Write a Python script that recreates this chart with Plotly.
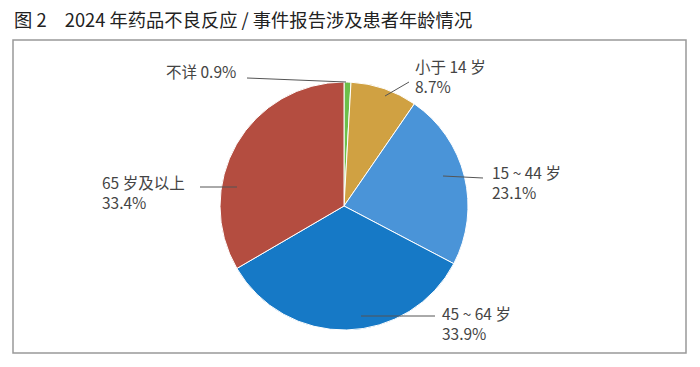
import plotly.graph_objects as go

# ---- data ----
categories = ["不详", "小于 14 岁", "15 ~ 44 岁", "45 ~ 64 岁", "65 岁及以上"]
percent = [0.9, 8.7, 23.1, 33.9, 33.4]
colors = ["#6cbf4a", "#d0a142", "#4a94d8", "#1679c6", "#b44d40"]

W, H = 700, 367
def px(x): return x / W
def py(y): return 1 - y / H

# pie geometry (pixels)
cx, cy, R = 344, 206, 124

fig = go.Figure(go.Pie(
    labels=categories,
    values=percent,
    sort=False,
    direction="clockwise",
    rotation=0,
    marker=dict(colors=colors, line=dict(color="white", width=1)),
    textinfo="none",
    hoverinfo="label+percent",
    showlegend=False,
    domain=dict(x=[px(cx - R), px(cx + R)], y=[py(cy + R), py(cy - R)]),
))

# label layout (pixels): text position, anchor, leader line
label_layout = [
    (238, 71, "right", (247, 78), (346, 82), True),
    (413, 76, "left", (385, 96), (409, 82), False),
    (490, 182, "left", (443, 176), (483, 178), False),
    (440, 323, "left", (361, 316), (435, 316), False),
    (100, 192, "left", (200, 187), (237, 187), False),
]

font_main = "Noto Sans CJK SC, Noto Sans, sans-serif"
annotations = []
shapes = []
for (cat, val), (x, y, xa, p0, p1, single) in zip(zip(categories, percent), label_layout):
    text = f"{cat} {val}%" if single else f"{cat}<br>{val}%"
    annotations.append(dict(
        x=px(x), y=py(y), xref="paper", yref="paper",
        text=text, showarrow=False, xanchor=xa, yanchor="middle", align="left",
        font=dict(family=font_main, size=15.5, color="#444444"),
    ))
    shapes.append(dict(type="line", xref="paper", yref="paper",
                       x0=px(p0[0]), y0=py(p0[1]), x1=px(p1[0]), y1=py(p1[1]),
                       line=dict(color="#555555", width=1)))

# frame box
shapes.append(dict(type="rect", xref="paper", yref="paper",
                   x0=px(13), y0=py(353), x1=px(686), y1=py(40),
                   line=dict(color="#999999", width=1.5)))

annotations.append(dict(
    x=px(12), y=py(19), xref="paper", yref="paper",
    text="图 2　2024 年药品不良反应 / 事件报告涉及患者年龄情况",
    showarrow=False, xanchor="left", yanchor="middle",
    font=dict(family=font_main, size=18.3, color="#222222"),
))

fig.update_layout(
    width=W, height=H,
    margin=dict(l=0, r=0, t=0, b=0),
    paper_bgcolor="white", plot_bgcolor="white",
    annotations=annotations, shapes=shapes,
)

fig.write_html("out.html",
               config={"displayModeBar": False},
               post_script="document.body.style.margin='0';document.body.style.overflow='hidden';")
